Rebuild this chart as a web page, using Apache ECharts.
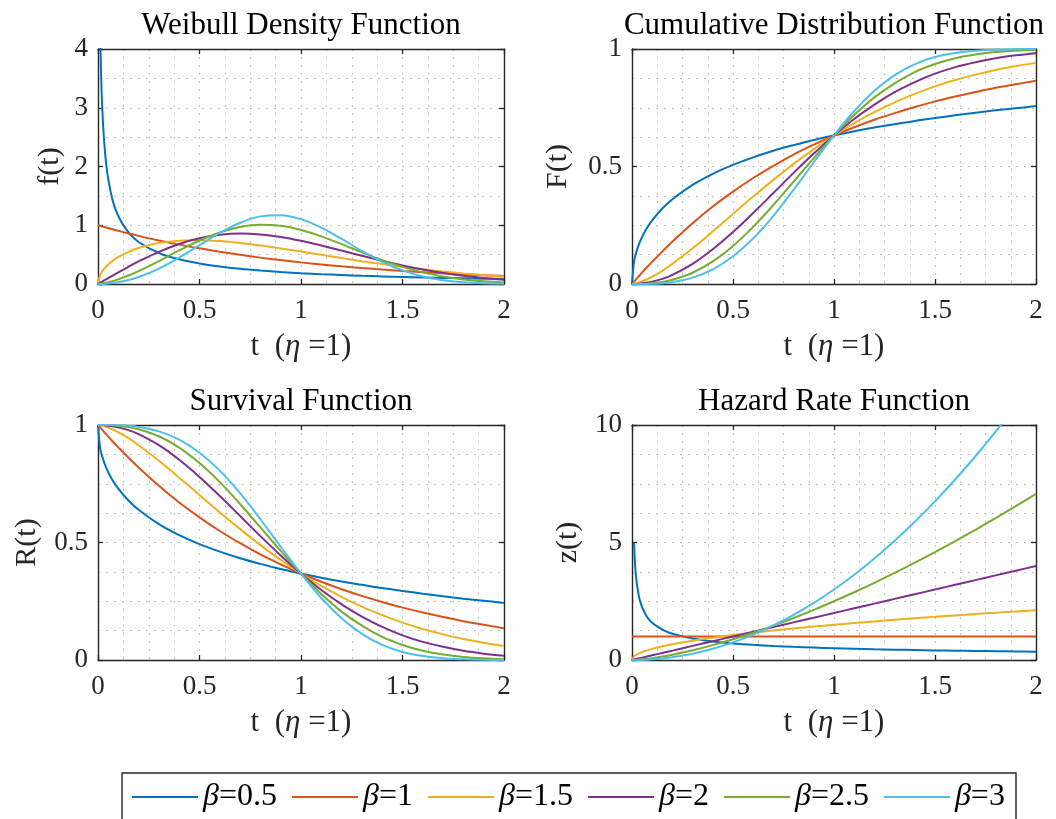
<!DOCTYPE html>
<html>
<head>
<meta charset="utf-8">
<script src="https://cdn.jsdelivr.net/npm/echarts@6/dist/echarts.min.js"></script>
<style>
html, body { margin: 0; padding: 0; background: #fff; }
#chart { width: 1056px; height: 819px; }
</style>
</head>
<body>
<div id="chart"></div>
<script>
// time axis (eta = 1)
var tVals = [0, 0.01, 0.02, 0.04, 0.07, 0.1, 0.15, 0.2, 0.3, 0.4, 0.5, 0.6, 0.7, 0.8, 0.9, 1.0, 1.1, 1.2, 1.3, 1.4, 1.5, 1.6, 1.7, 1.8, 1.9, 2.0];
var betaNames = ['β=0.5', 'β=1', 'β=1.5', 'β=2', 'β=2.5', 'β=3'];
var lineColors = ['#0072BD', '#D95319', '#EDB120', '#7E2F8E', '#77AC30', '#4DBEEE'];

// density f(t)
var pdfB05 = [null, 4.524, 3.069, 2.047, 1.450, 1.153, 0.877, 0.715, 0.528, 0.420, 0.349, 0.298, 0.259, 0.229, 0.204, 0.184, 0.167, 0.153, 0.140, 0.129, 0.120, 0.112, 0.104, 0.097, 0.091, 0.086];
var pdfB1  = [1, 0.990, 0.980, 0.961, 0.932, 0.905, 0.861, 0.819, 0.741, 0.670, 0.607, 0.549, 0.497, 0.449, 0.407, 0.368, 0.333, 0.301, 0.273, 0.247, 0.223, 0.202, 0.183, 0.165, 0.150, 0.135];
var pdfB15 = [0, 0.150, 0.212, 0.298, 0.390, 0.460, 0.548, 0.613, 0.697, 0.737, 0.745, 0.730, 0.699, 0.656, 0.606, 0.552, 0.496, 0.441, 0.388, 0.339, 0.293, 0.251, 0.213, 0.180, 0.151, 0.125];
var pdfB2  = [0, 0.020, 0.040, 0.080, 0.139, 0.198, 0.293, 0.384, 0.548, 0.682, 0.779, 0.837, 0.858, 0.844, 0.801, 0.736, 0.656, 0.569, 0.480, 0.395, 0.316, 0.247, 0.189, 0.141, 0.103, 0.073];
var pdfB25 = [0, 0.003, 0.007, 0.020, 0.046, 0.079, 0.144, 0.220, 0.391, 0.572, 0.741, 0.879, 0.972, 1.009, 0.990, 0.920, 0.811, 0.679, 0.540, 0.407, 0.292, 0.198, 0.128, 0.078, 0.045, 0.025];
var pdfB3  = [0, 0.000, 0.001, 0.005, 0.015, 0.030, 0.067, 0.119, 0.263, 0.450, 0.662, 0.870, 1.043, 1.151, 1.172, 1.104, 0.959, 0.767, 0.563, 0.378, 0.231, 0.128, 0.064, 0.029, 0.011, 0.004];

// cumulative F(t)
var cdfB05 = [0, 0.095, 0.132, 0.181, 0.233, 0.271, 0.321, 0.361, 0.422, 0.469, 0.507, 0.539, 0.567, 0.591, 0.613, 0.632, 0.650, 0.666, 0.680, 0.694, 0.706, 0.718, 0.729, 0.739, 0.748, 0.757];
var cdfB1  = [0, 0.010, 0.020, 0.039, 0.068, 0.095, 0.139, 0.181, 0.259, 0.330, 0.393, 0.451, 0.503, 0.551, 0.593, 0.632, 0.667, 0.699, 0.727, 0.753, 0.777, 0.798, 0.817, 0.835, 0.850, 0.865];
var cdfB15 = [0, 0.001, 0.003, 0.008, 0.018, 0.031, 0.056, 0.086, 0.152, 0.224, 0.298, 0.372, 0.443, 0.511, 0.574, 0.632, 0.685, 0.731, 0.773, 0.809, 0.841, 0.868, 0.891, 0.911, 0.927, 0.941];
var cdfB2  = [0, 0.000, 0.000, 0.002, 0.005, 0.010, 0.022, 0.039, 0.086, 0.148, 0.221, 0.302, 0.387, 0.473, 0.555, 0.632, 0.702, 0.763, 0.816, 0.859, 0.895, 0.923, 0.944, 0.961, 0.973, 0.982];
var cdfB25 = [0, 0.000, 0.000, 0.000, 0.001, 0.003, 0.009, 0.018, 0.048, 0.096, 0.162, 0.243, 0.336, 0.436, 0.536, 0.632, 0.719, 0.794, 0.854, 0.902, 0.936, 0.961, 0.977, 0.987, 0.993, 0.997];
var cdfB3  = [0, 0.000, 0.000, 0.000, 0.000, 0.001, 0.003, 0.008, 0.027, 0.062, 0.118, 0.194, 0.290, 0.401, 0.518, 0.632, 0.736, 0.822, 0.889, 0.936, 0.966, 0.983, 0.993, 0.997, 0.999, 1.000];

// survival R(t)
var relB05 = [1, 0.905, 0.868, 0.819, 0.767, 0.729, 0.679, 0.639, 0.578, 0.531, 0.493, 0.461, 0.433, 0.409, 0.387, 0.368, 0.350, 0.334, 0.320, 0.306, 0.294, 0.282, 0.271, 0.261, 0.252, 0.243];
var relB1  = [1, 0.990, 0.980, 0.961, 0.932, 0.905, 0.861, 0.819, 0.741, 0.670, 0.607, 0.549, 0.497, 0.449, 0.407, 0.368, 0.333, 0.301, 0.273, 0.247, 0.223, 0.202, 0.183, 0.165, 0.150, 0.135];
var relB15 = [1, 0.999, 0.997, 0.992, 0.982, 0.969, 0.944, 0.914, 0.848, 0.776, 0.702, 0.628, 0.557, 0.489, 0.426, 0.368, 0.315, 0.269, 0.227, 0.191, 0.159, 0.132, 0.109, 0.089, 0.073, 0.059];
var relB2  = [1, 1.000, 1.000, 0.998, 0.995, 0.990, 0.978, 0.961, 0.914, 0.852, 0.779, 0.698, 0.613, 0.527, 0.445, 0.368, 0.298, 0.237, 0.185, 0.141, 0.105, 0.077, 0.056, 0.039, 0.027, 0.018];
var relB25 = [1, 1.000, 1.000, 1.000, 0.999, 0.997, 0.991, 0.982, 0.952, 0.904, 0.838, 0.757, 0.664, 0.564, 0.464, 0.368, 0.281, 0.206, 0.146, 0.098, 0.064, 0.039, 0.023, 0.013, 0.007, 0.003];
var relB3  = [1, 1.000, 1.000, 1.000, 1.000, 0.999, 0.997, 0.992, 0.973, 0.938, 0.882, 0.806, 0.710, 0.599, 0.482, 0.368, 0.264, 0.178, 0.111, 0.064, 0.034, 0.017, 0.007, 0.003, 0.001, 0.000];

// hazard z(t)
var hazB05 = [null, 5.000, 3.536, 2.500, 1.890, 1.581, 1.291, 1.118, 0.913, 0.791, 0.707, 0.645, 0.598, 0.559, 0.527, 0.500, 0.477, 0.456, 0.439, 0.423, 0.408, 0.395, 0.383, 0.373, 0.363, 0.354];
var hazB1  = [1, 1, 1, 1, 1, 1, 1, 1, 1, 1, 1, 1, 1, 1, 1, 1, 1, 1, 1, 1, 1, 1, 1, 1, 1, 1];
var hazB15 = [0, 0.150, 0.212, 0.300, 0.397, 0.474, 0.581, 0.671, 0.822, 0.949, 1.061, 1.162, 1.255, 1.342, 1.423, 1.500, 1.573, 1.643, 1.710, 1.775, 1.837, 1.897, 1.956, 2.012, 2.068, 2.121];
var hazB2  = [0, 0.02, 0.04, 0.08, 0.14, 0.2, 0.3, 0.4, 0.6, 0.8, 1.0, 1.2, 1.4, 1.6, 1.8, 2.0, 2.2, 2.4, 2.6, 2.8, 3.0, 3.2, 3.4, 3.6, 3.8, 4.0];
var hazB25 = [0, 0.003, 0.007, 0.020, 0.046, 0.079, 0.145, 0.224, 0.411, 0.632, 0.884, 1.162, 1.464, 1.789, 2.135, 2.500, 2.884, 3.286, 3.706, 4.141, 4.593, 5.060, 5.541, 6.037, 6.547, 7.071];
var hazB3  = [0, 0.0003, 0.0012, 0.005, 0.015, 0.03, 0.068, 0.12, 0.27, 0.48, 0.75, 1.08, 1.47, 1.92, 2.43, 3.0, 3.63, 4.32, 5.07, 5.88, 6.75, 7.68, 8.67, 9.72, 10.83, 12.0];

var panels = [
  {title: 'Weibull Density Function', yName: 'f(t)', ymax: 4, yint: 1, ysplit: 2, yGap: 33,
   sets: [pdfB05, pdfB1, pdfB15, pdfB2, pdfB25, pdfB3]},
  {title: 'Cumulative Distribution Function', yName: 'F(t)', ymax: 1, yint: 0.5, ysplit: 4, yGap: 59,
   sets: [cdfB05, cdfB1, cdfB15, cdfB2, cdfB25, cdfB3]},
  {title: 'Survival Function', yName: 'R(t)', ymax: 1, yint: 0.5, ysplit: 4, yGap: 56,
   sets: [relB05, relB1, relB15, relB2, relB25, relB3]},
  {title: 'Hazard Rate Function', yName: 'z(t)', ymax: 10, yint: 5, ysplit: 4, yGap: 49,
   sets: [hazB05, hazB1, hazB15, hazB2, hazB25, hazB3]}
];

var grids = [
  {left: 98, top: 49, width: 406, height: 235},
  {left: 632, top: 49, width: 404, height: 235},
  {left: 98, top: 425, width: 406, height: 235},
  {left: 632, top: 425, width: 404, height: 235}
];

var FONT = 'Liberation Serif';
var INK = '#262626';
var gridLine = {color: '#c4c4c4', width: 1, type: [2, 6]};
var frame = {show: true, onZero: false, lineStyle: {color: INK, width: 1.4}};
var tick = {inside: true, length: 5, lineStyle: {color: INK, width: 1.3}};

var titles = [], xAxes = [], yAxes = [], series = [];
panels.forEach(function (p, gi) {
  var g = grids[gi];
  titles.push({
    text: p.title, left: g.left + g.width / 2, top: g.top - 39, textAlign: 'center', padding: 0,
    textStyle: {fontFamily: FONT, fontSize: 31, fontWeight: 'normal', color: '#000'}
  });
  // bottom and top x axes
  xAxes.push({
    gridIndex: gi, type: 'value', min: 0, max: 2, interval: 0.5, position: 'bottom',
    axisLine: frame, axisTick: tick,
    axisLabel: {fontFamily: FONT, fontSize: 27, color: INK, margin: 13},
    splitLine: {show: true, lineStyle: gridLine},
    minorTick: {show: false, splitNumber: 4},
    minorSplitLine: {show: true, lineStyle: gridLine},
    name: '{n|t  (}{i|η}{n| =1)}', nameLocation: 'middle', nameGap: 47,
    nameTextStyle: {fontFamily: FONT, fontSize: 31, color: INK,
      rich: {n: {fontFamily: FONT, fontSize: 31, color: INK},
             i: {fontFamily: FONT, fontSize: 31, color: INK, fontStyle: 'italic'}}}
  });
  xAxes.push({
    gridIndex: gi, type: 'value', min: 0, max: 2, interval: 0.5, position: 'top',
    axisLine: frame, axisTick: tick, axisLabel: {show: false}, splitLine: {show: false}
  });
  yAxes.push({
    gridIndex: gi, type: 'value', min: 0, max: p.ymax, interval: p.yint, position: 'left',
    axisLine: frame, axisTick: tick,
    axisLabel: {fontFamily: FONT, fontSize: 27, color: INK, margin: 10},
    splitLine: {show: true, lineStyle: gridLine},
    minorTick: {show: false, splitNumber: p.ysplit},
    minorSplitLine: {show: true, lineStyle: gridLine},
    name: p.yName, nameLocation: 'middle', nameGap: p.yGap,
    nameTextStyle: {fontFamily: FONT, fontSize: 30, color: INK}
  });
  yAxes.push({
    gridIndex: gi, type: 'value', min: 0, max: p.ymax, interval: p.yint, position: 'right',
    axisLine: frame, axisTick: tick, axisLabel: {show: false}, splitLine: {show: false}
  });
  p.sets.forEach(function (vals, k) {
    series.push({
      name: betaNames[k], type: 'line', xAxisIndex: gi * 2, yAxisIndex: gi * 2,
      data: tVals.map(function (t, i) { return [t, vals[i]]; }),
      showSymbol: false, symbol: 'none', smooth: 0.35, clip: true,
      color: lineColors[k],
      lineStyle: {color: lineColors[k], width: 2},
      emphasis: {disabled: true}
    });
  });
});

var chart = echarts.init(document.getElementById('chart'));
chart.setOption({
  animation: false,
  backgroundColor: '#fff',
  title: titles,
  grid: grids,
  xAxis: xAxes,
  yAxis: yAxes,
  series: series,
  graphic: [{
    type: 'rect', z: 1, silent: true,
    shape: {x: 122, y: 773, width: 894, height: 60},
    style: {fill: '#fff', stroke: INK, lineWidth: 1.4}
  }],
  legend: {
    z: 5, left: 132, top: 781, padding: 0,
    icon: 'rect', itemWidth: 66, itemHeight: 2, itemGap: 15,
    data: betaNames,
    formatter: function (name) {
      return '{b|β}{n|' + name.slice(1) + '}';
    },
    textStyle: {fontFamily: FONT, fontSize: 32, color: '#000',
      rich: {b: {fontFamily: FONT, fontSize: 32, fontStyle: 'italic', color: '#000'},
             n: {fontFamily: FONT, fontSize: 32, color: '#000'}}}
  }
});
</script>
</body>
</html>
